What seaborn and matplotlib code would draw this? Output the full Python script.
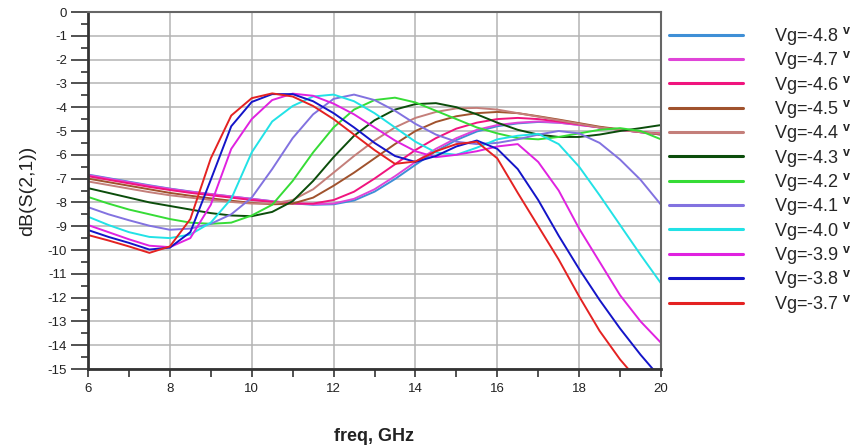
import pandas as pd
import matplotlib
matplotlib.use('Agg')
import matplotlib.pyplot as plt
import seaborn as sns
from matplotlib.lines import Line2D
from matplotlib.ticker import MultipleLocator

# frequency points (GHz)
freq = [6.0, 6.5, 7.0, 7.5, 8.0, 8.5, 9.0, 9.5, 10.0, 10.5, 11.0, 11.5, 12.0, 12.5,
        13.0, 13.5, 14.0, 14.5, 15.0, 15.5, 16.0, 16.5, 17.0, 17.5, 18.0, 18.5,
        19.0, 19.5, 20.0]

# dB(S(2,1)), one list per gate voltage
s21_m48 = [-6.83, -6.98, -7.13, -7.28, -7.42, -7.54, -7.65, -7.75, -7.85, -7.95, -8.04, -8.1, -8.08, -7.92,
           -7.55, -7.02, -6.42, -5.85, -5.38, -5.02, -4.8, -4.68, -4.62, -4.65, -4.74, -4.85, -4.95, -5.05, -5.15]
s21_m47 = [-6.85, -7.0, -7.15, -7.3, -7.43, -7.55, -7.65, -7.75, -7.85, -7.95, -8.03, -8.08, -8.05, -7.85,
           -7.45, -6.9, -6.3, -5.75, -5.3, -4.95, -4.75, -4.65, -4.6, -4.65, -4.75, -4.85, -4.95, -5.05, -5.15]
s21_m46 = [-6.9, -7.05, -7.2, -7.35, -7.48, -7.6, -7.7, -7.8, -7.9, -7.98, -8.05, -8.05, -7.9, -7.55,
           -7.0, -6.4, -5.8, -5.3, -4.9, -4.65, -4.5, -4.45, -4.5, -4.6, -4.72, -4.85, -4.95, -5.05, -5.1]
s21_m45 = [-7.0, -7.15, -7.3, -7.45, -7.6, -7.72, -7.83, -7.93, -8.02, -8.08, -8.05, -7.8, -7.3, -6.75,
           -6.15, -5.55, -5.0, -4.62, -4.38, -4.25, -4.2, -4.25, -4.38, -4.52, -4.67, -4.82, -4.93, -5.03, -5.15]
s21_m44 = [-7.12, -7.27, -7.42, -7.57, -7.7, -7.8, -7.9, -7.98, -8.05, -8.05, -7.9, -7.45, -6.75, -6.05,
           -5.4, -4.85, -4.45, -4.2, -4.05, -4.03, -4.1, -4.25, -4.4, -4.55, -4.7, -4.85, -4.95, -5.05, -5.12]
s21_m43 = [-7.4, -7.6, -7.8, -8.0, -8.15, -8.3, -8.45, -8.55, -8.58, -8.4, -7.95, -7.1, -6.1, -5.2,
           -4.55, -4.1, -3.87, -3.83, -4.0, -4.3, -4.65, -4.95, -5.15, -5.25, -5.25, -5.15, -5.0, -4.88, -4.75]
s21_m42 = [-7.77, -8.05, -8.3, -8.5, -8.7, -8.85, -8.9, -8.85, -8.55, -8.1, -7.1, -5.9, -4.85, -4.1,
           -3.7, -3.6, -3.8, -4.15, -4.5, -4.85, -5.1, -5.3, -5.35, -5.25, -5.1, -4.95, -4.88, -5.0, -5.35]
s21_m41 = [-8.2, -8.5, -8.75, -8.98, -9.15, -9.1, -8.9, -8.5, -7.8, -6.6, -5.3, -4.3, -3.65, -3.47,
           -3.7, -4.15, -4.7, -5.15, -5.45, -5.55, -5.5, -5.35, -5.15, -5.0, -5.1, -5.5, -6.2, -7.05, -8.1]
s21_m40 = [-8.6, -8.95, -9.25, -9.45, -9.5, -9.35, -8.85, -7.85, -5.9, -4.6, -3.95, -3.55, -3.47, -3.75,
           -4.25, -4.85, -5.45, -5.9, -6.0, -5.7, -5.35, -5.2, -5.12, -5.55, -6.5, -7.7, -8.95, -10.2, -11.4]
s21_m39 = [-8.95, -9.25, -9.55, -9.82, -9.88, -9.5, -8.1, -5.75, -4.5, -3.7, -3.43, -3.52, -3.85, -4.3,
           -4.85, -5.4, -5.85, -6.1, -6.0, -5.85, -5.65, -5.55, -6.3, -7.5, -9.1, -10.5, -11.9, -13.0, -13.9]
s21_m38 = [-9.16, -9.45, -9.7, -9.98, -9.9, -9.25, -7.05, -4.8, -3.78, -3.45, -3.45, -3.75, -4.25, -4.85,
           -5.5, -6.05, -6.3, -6.05, -5.65, -5.4, -5.75, -6.6, -7.9, -9.4, -10.8, -12.1, -13.3, -14.4, -15.4]
s21_m37 = [-9.37, -9.6, -9.85, -10.12, -9.85, -8.7, -6.15, -4.35, -3.62, -3.42, -3.55, -3.95, -4.5, -5.15,
           -5.8, -6.38, -6.28, -5.85, -5.55, -5.45, -6.15, -7.6, -9.0, -10.4, -11.95, -13.4, -14.6, -15.6, -16.5]

vg_labels = ['-4.8', '-4.7', '-4.6', '-4.5', '-4.4', '-4.3',
             '-4.2', '-4.1', '-4.0', '-3.9', '-3.8', '-3.7']
curves = [s21_m48, s21_m47, s21_m46, s21_m45, s21_m44, s21_m43,
          s21_m42, s21_m41, s21_m40, s21_m39, s21_m38, s21_m37]
colors = ['#3f8fd6', '#e045d8', '#f0147e', '#a0522d', '#c47f7a', '#0b4d0b',
          '#36dc36', '#8272e0', '#22e2e6', '#e022e0', '#1414c8', '#e42222']

rows = []
for lab, vals in zip(vg_labels, curves):
    for f, v in zip(freq, vals):
        rows.append({'freq': f, 'db': v, 'vg': lab})
df = pd.DataFrame(rows)
palette = dict(zip(vg_labels, colors))

sns.set_style('white')
plt.rcParams['font.family'] = ['Liberation Sans', 'DejaVu Sans']
plt.rcParams['axes.unicode_minus'] = False
plt.rcParams['mathtext.fontset'] = 'custom'
plt.rcParams['mathtext.rm'] = 'Liberation Sans'
plt.rcParams['mathtext.bf'] = 'Liberation Sans:bold'

fig = plt.figure(figsize=(8.68, 4.47), dpi=100)
ax = fig.add_axes([88 / 868, 1 - 369 / 447, 573 / 868, 357 / 447])

sns.lineplot(data=df, x='freq', y='db', hue='vg', hue_order=vg_labels,
             palette=palette, linewidth=1.4, estimator=None, sort=False,
             legend=False, ax=ax)

ax.set_xlim(6, 20)
ax.set_ylim(-15, 0)
ax.xaxis.set_major_locator(MultipleLocator(2))
ax.xaxis.set_minor_locator(MultipleLocator(1))
ax.yaxis.set_major_locator(MultipleLocator(1))
ax.yaxis.set_minor_locator(MultipleLocator(0.5))
ax.grid(True, which='major', color='#b4b4b4', linewidth=1.1)
ax.set_axisbelow(True)

ax.tick_params(axis='y', which='major', direction='out', length=12, width=1.2,
               color='#333333', labelsize=9.5, labelcolor='#222222', pad=3, left=True)
ax.tick_params(axis='y', which='minor', direction='out', length=5, width=1.2,
               color='#333333', left=True)
ax.tick_params(axis='x', which='both', direction='out', length=6, width=1.2,
               color='#333333', labelsize=9.5, labelcolor='#222222', pad=4, bottom=True)

for side in ['left', 'bottom']:
    ax.spines[side].set_color('#333333')
    ax.spines[side].set_linewidth(2)
for side in ['top', 'right']:
    ax.spines[side].set_color('#666666')
    ax.spines[side].set_linewidth(1.5)

ax.set_xlabel('freq, GHz', fontsize=13, fontweight='bold', color='#222222', va='center')
ax.xaxis.set_label_coords(0.5, -0.19)
ax.set_ylabel('dB(S(2,1))', fontsize=14, color='#222222', va='center')
ax.yaxis.set_label_coords(-0.105, 0.5)

handles = [Line2D([0], [0], color=c, linewidth=2.2) for c in colors]
labels = ['Vg=' + v + r' $^{\mathbf{v}}$' for v in vg_labels]
fig.legend(handles, labels, loc='upper left', bbox_to_anchor=(669 / 868, 1 - 25 / 447),
           frameon=False, fontsize=13, handlelength=4.1, handletextpad=1.7,
           labelspacing=0.13, borderpad=0, borderaxespad=0)

fig.savefig('out.png', dpi=100)
plt.close(fig)
